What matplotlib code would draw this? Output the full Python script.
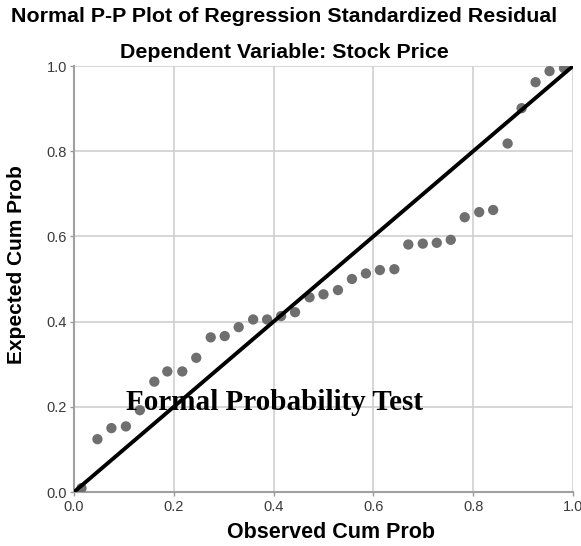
import matplotlib.pyplot as plt

# observed vs expected cumulative probabilities
observed_cum = [0.015, 0.047, 0.075, 0.104, 0.132, 0.161, 0.187, 0.217, 0.245,
                0.274, 0.302, 0.330, 0.359, 0.387, 0.415, 0.443, 0.472, 0.500,
                0.529, 0.557, 0.585, 0.613, 0.642, 0.670, 0.699, 0.727, 0.755,
                0.783, 0.812, 0.840, 0.869, 0.897, 0.925, 0.953, 0.982]
expected_cum = [0.009, 0.124, 0.150, 0.154, 0.192, 0.259, 0.283, 0.283, 0.315,
                0.363, 0.366, 0.387, 0.405, 0.405, 0.413, 0.422, 0.457, 0.464,
                0.474, 0.500, 0.513, 0.521, 0.523, 0.581, 0.583, 0.585, 0.592,
                0.645, 0.657, 0.662, 0.818, 0.901, 0.962, 0.988, 0.995]
ref_line = [0.0, 1.0]
ticks = [0.0, 0.2, 0.4, 0.6, 0.8, 1.0]
tick_labels = ['0.0', '0.2', '0.4', '0.6', '0.8', '1.0']

plt.rcParams['font.family'] = ['Liberation Sans', 'DejaVu Sans']

fig = plt.figure(figsize=(5.81, 5.46), dpi=100)
ax = fig.add_axes([74 / 581, 54 / 546, 499 / 581, 426 / 546])

ax.grid(True, color='#cfcfcf', linewidth=1.2, zorder=0)
ax.scatter(observed_cum, expected_cum, s=55, color='#6f6f6f',
           edgecolors='none', zorder=3)
ax.plot(ref_line, ref_line, color='black', linewidth=2.8, zorder=4)

ax.set_xlim(0, 1)
ax.set_ylim(0, 1)
ax.set_xticks(ticks)
ax.set_xticklabels(tick_labels)
ax.set_yticks(ticks)
ax.set_yticklabels(tick_labels)
ax.tick_params(axis='both', labelsize=10.5, colors='#9a9a9a',
               labelcolor='#3a3a3a', length=3, width=1)
ax.tick_params(axis='x', pad=3)
ax.tick_params(axis='y', pad=2)

for side in ['top', 'right']:
    ax.spines[side].set_visible(False)
for side in ['left', 'bottom']:
    ax.spines[side].set_color('#a0a0a0')
    ax.spines[side].set_linewidth(1.5)

ax.set_xlabel('Observed Cum Prob', fontsize=15.5, fontweight='bold')
ax.xaxis.set_label_coords((331 - 74) / 499, -(533 - 492) / 426)
ax.set_ylabel('Expected Cum Prob', fontsize=15, fontweight='bold')
ax.yaxis.set_label_coords(-(74 - 17) / 499, (492 - 265) / 426)
ax.xaxis.label.set_va('center')
ax.yaxis.label.set_va('center')

fig.text(284 / 581, 1 - 16 / 546, 'Normal P-P Plot of Regression Standardized Residual',
         ha='center', va='center', fontsize=15.4, fontweight='bold')
fig.text(284 / 581, 1 - 52 / 546, 'Dependent Variable: Stock Price',
         ha='center', va='center', fontsize=15.4, fontweight='bold')

ax.text((275 - 74) / 499, (492 - 403) / 426, 'Formal Probability Test',
        ha='center', va='center', fontsize=21, fontweight='bold',
        family='Liberation Serif', zorder=5)

fig.savefig('out.png', dpi=100)
